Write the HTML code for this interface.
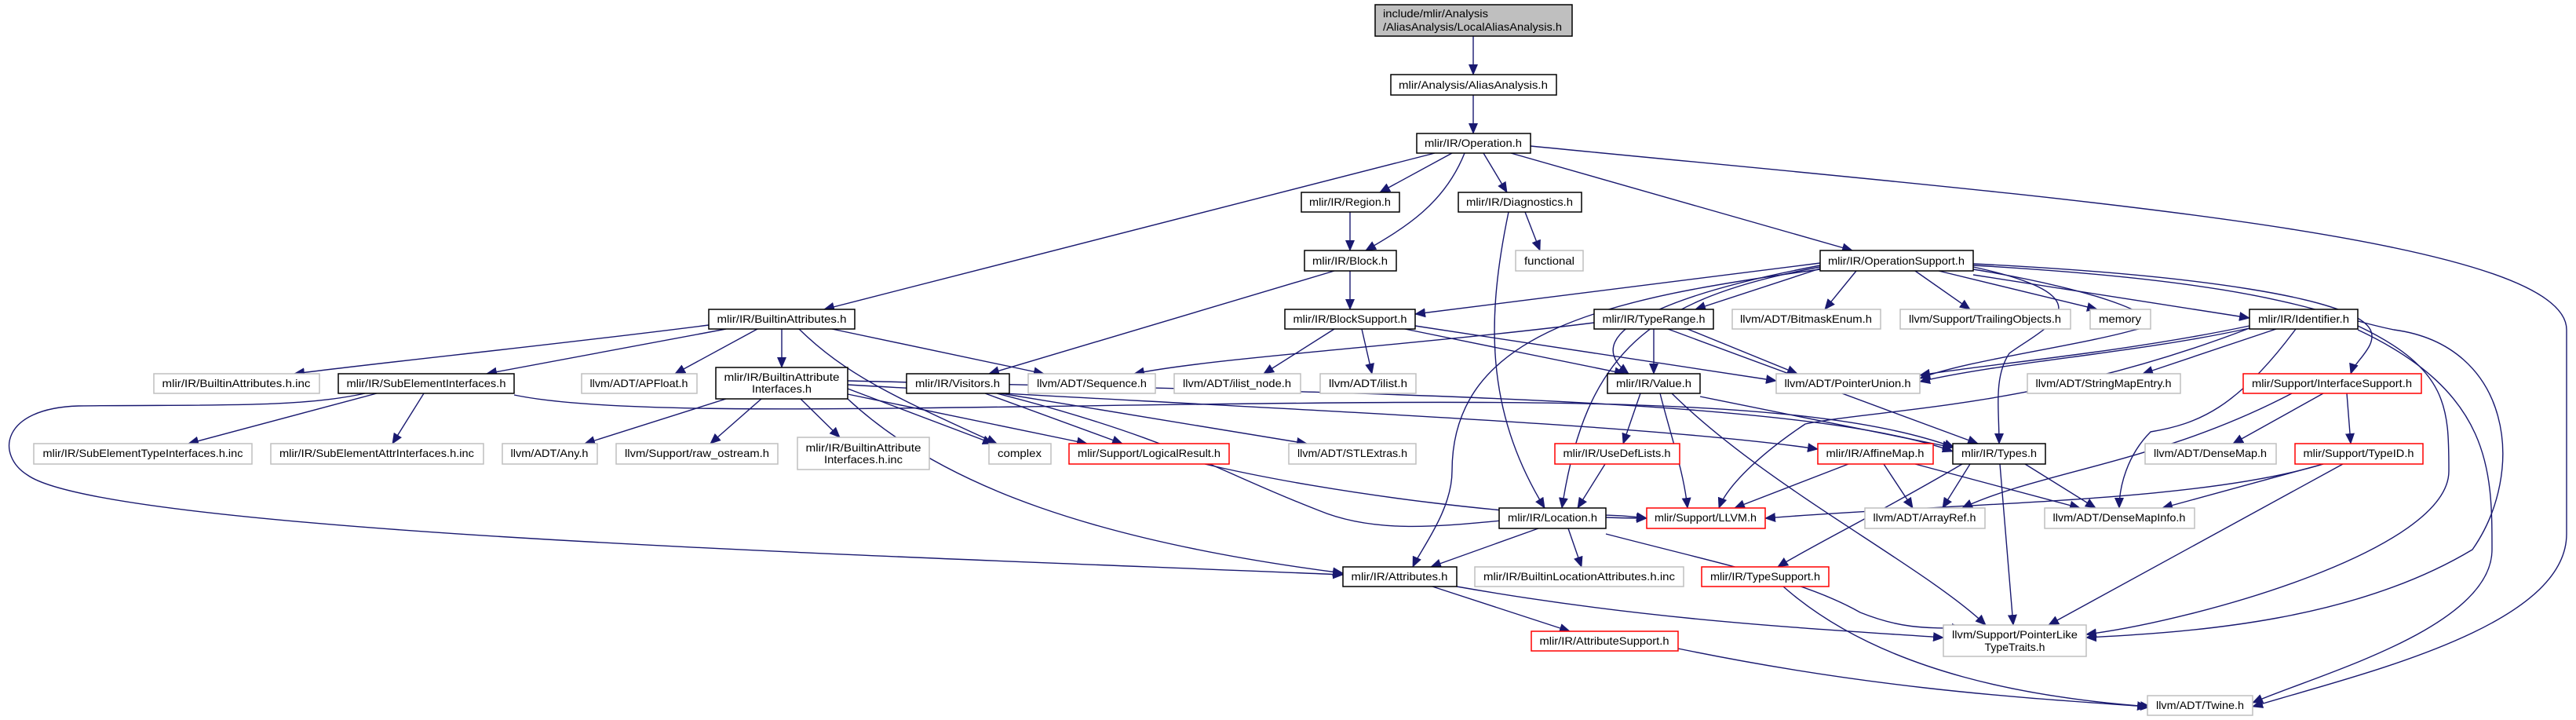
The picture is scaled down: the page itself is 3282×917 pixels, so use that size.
<!DOCTYPE html>
<html><head><meta charset="utf-8"><style>html,body{margin:0;padding:0;background:#fff}svg{display:block}</style></head>
<body>
<svg xmlns="http://www.w3.org/2000/svg" width="3282" height="917" viewBox="0 0 3282 917" font-family="'Liberation Sans', sans-serif" font-size="14">
<defs>
<marker id="a" markerUnits="userSpaceOnUse" markerWidth="14" markerHeight="12" refX="13" refY="6" orient="auto"><path d="M0,0 L14,6 L0,12 z" fill="#191970"/></marker>
</defs>
<g fill="none" stroke="#191970" stroke-width="1.4" marker-end="url(#a)">
<path d="M1877,46 L1877,95"/>
<path d="M1877,121 L1877,170"/>
<path d="M1828,195 L1050,394"/>
<path d="M1850,195 L1758,245"/>
<path d="M1866,195 C1840,260 1790,290 1740,319"/>
<path d="M1890,195 L1920,245"/>
<path d="M1925,195 L2360,319"/>
<path d="M1950,186 C2600,250 3270,300 3270,420 L3270,680 C3270,800 3000,860 2870,900"/>
<path d="M1720,270 L1720,319"/>
<path d="M1943,270 L1962,319"/>
<path d="M1922,270 C1895,400 1890,520 1968,647"/>
<path d="M1700,345 L1260,476"/>
<path d="M1720,345 L1720,394"/>
<path d="M903,414 C700,440 500,460 375,476"/>
<path d="M925,419 L620,476"/>
<path d="M965,419 L860,476"/>
<path d="M996,419 L996,468"/>
<path d="M1018,419 C1080,480 1150,510 1270,565"/>
<path d="M1060,419 L1330,476"/>
<path d="M480,501 L240,565"/>
<path d="M540,501 L500,565"/>
<path d="M465,501 C380,520 260,515 100,517 C0,520 -5,580 35,605 C140,680 1200,710 1711,732"/>
<path d="M655,503 C760,525 1000,522 1300,518 C1900,510 2300,500 2490,570"/>
<path d="M925,508 L745,565"/>
<path d="M970,508 L905,565"/>
<path d="M1020,508 L1070,557"/>
<path d="M1080,495 L1265,565"/>
<path d="M1080,502 L1385,565"/>
<path d="M1080,508 C1200,620 1400,690 1711,730"/>
<path d="M1080,490 C1600,520 2100,540 2316,572"/>
<path d="M1080,485 C1700,500 2300,505 2488,575"/>
<path d="M1270,501 C1500,560 1550,600 1680,650 C1800,700 1950,640 2098,660"/>
<path d="M1255,501 L1430,565"/>
<path d="M1275,501 L1665,565"/>
<path d="M1700,419 L1610,476"/>
<path d="M1735,419 L1748,476"/>
<path d="M1790,419 L2070,476"/>
<path d="M1803,415 L2263,485"/>
<path d="M2031,411 C1800,440 1550,455 1445,476"/>
<path d="M2107,419 L2107,476"/>
<path d="M2125,419 L2520,565"/>
<path d="M2150,419 L2290,476"/>
<path d="M2319,335 L1803,400"/>
<path d="M2319,342 L2160,394"/>
<path d="M2319,338 C2150,370 2000,420 2075,476"/>
<path d="M2319,340 C2100,380 2020,450 1990,647"/>
<path d="M2319,343 C2050,380 1850,420 1850,600 C1850,650 1810,700 1800,722"/>
<path d="M2365,345 L2325,394"/>
<path d="M2440,345 L2510,394"/>
<path d="M2470,345 L2672,394"/>
<path d="M2514,350 L2866,405"/>
<path d="M2514,336 C2800,350 3000,380 3020,420 C3030,440 3000,460 2995,476"/>
<path d="M2514,343 C2680,370 2780,410 2720,420 C2650,440 2500,460 2446,482"/>
<path d="M2514,340 C2700,380 2600,420 2560,450 C2540,480 2547,520 2547,565"/>
<path d="M2514,338 C2900,360 2950,400 3050,420 C3200,440 3220,600 3150,700 C3000,790 2800,805 2658,812"/>
<path d="M2866,415 C2700,450 2520,465 2446,478"/>
<path d="M2866,418 C2720,450 2560,460 2446,486"/>
<path d="M2900,419 L2730,476"/>
<path d="M2925,419 C2850,520 2800,540 2740,550 C2710,580 2700,620 2700,647"/>
<path d="M2866,418 C2600,520 2400,520 2300,540 C2240,580 2200,620 2190,647"/>
<path d="M3004,415 C3120,470 3120,520 3120,600 C3120,700 2800,790 2658,808"/>
<path d="M3004,420 C3175,500 3175,600 3175,700 C3175,800 2950,860 2870,895"/>
<path d="M2090,501 L2068,565"/>
<path d="M2115,501 C2130,560 2145,600 2150,647"/>
<path d="M2130,501 C2250,620 2450,720 2530,796"/>
<path d="M2166,505 L2488,570"/>
<path d="M2045,591 L2010,647"/>
<path d="M1535,591 C1700,630 1950,660 2098,660"/>
<path d="M1960,673 L1823,722"/>
<path d="M1998,673 L2015,722"/>
<path d="M2046,680 C2200,720 2300,740 2370,780 C2420,800 2450,800 2500,800"/>
<path d="M1856,747 C2100,790 2300,800 2476,812"/>
<path d="M1825,747 L2000,804"/>
<path d="M2138,826 C2400,880 2600,890 2736,900"/>
<path d="M2355,591 L2210,647"/>
<path d="M2400,591 L2437,647"/>
<path d="M2440,591 L2650,647"/>
<path d="M2510,591 L2475,647"/>
<path d="M2580,591 L2670,647"/>
<path d="M2500,591 C2400,650 2300,700 2265,722"/>
<path d="M2548,591 L2565,796"/>
<path d="M2272,747 C2400,860 2600,890 2740,900"/>
<path d="M2990,501 L2995,565"/>
<path d="M2960,501 L2845,565"/>
<path d="M2920,501 C2750,590 2600,600 2500,647"/>
<path d="M2960,591 C2800,640 2500,640 2249,660"/>
<path d="M2960,591 L2755,647"/>
<path d="M2985,591 L2610,796"/>
</g>
<g stroke-width="1.5">
<rect x="1752" y="6" width="251" height="40" fill="#bfbfbf" stroke="#000"/>
<rect x="1772" y="95" width="211" height="26" fill="#fff" stroke="#000"/>
<rect x="1805" y="170" width="145" height="25" fill="#fff" stroke="#000"/>
<rect x="1658" y="245" width="125" height="25" fill="#fff" stroke="#000"/>
<rect x="1858" y="245" width="157" height="25" fill="#fff" stroke="#000"/>
<rect x="1662" y="319" width="117" height="26" fill="#fff" stroke="#000"/>
<rect x="1931" y="319" width="86" height="26" fill="#fff" stroke="#bfbfbf"/>
<rect x="1637" y="394" width="166" height="25" fill="#fff" stroke="#000"/>
<rect x="2031" y="394" width="152" height="25" fill="#fff" stroke="#000"/>
<rect x="903" y="394" width="186" height="25" fill="#fff" stroke="#000"/>
<rect x="2319" y="319" width="195" height="26" fill="#fff" stroke="#000"/>
<rect x="2207" y="394" width="189" height="25" fill="#fff" stroke="#bfbfbf"/>
<rect x="2421" y="394" width="217" height="25" fill="#fff" stroke="#bfbfbf"/>
<rect x="2663" y="394" width="77" height="25" fill="#fff" stroke="#bfbfbf"/>
<rect x="2866" y="394" width="138" height="25" fill="#fff" stroke="#000"/>
<rect x="196" y="476" width="211" height="25" fill="#fff" stroke="#bfbfbf"/>
<rect x="431" y="476" width="224" height="25" fill="#fff" stroke="#000"/>
<rect x="741" y="476" width="147" height="25" fill="#fff" stroke="#bfbfbf"/>
<rect x="912" y="468" width="168" height="40" fill="#fff" stroke="#000"/>
<rect x="1155" y="476" width="131" height="25" fill="#fff" stroke="#000"/>
<rect x="1310" y="476" width="162" height="25" fill="#fff" stroke="#bfbfbf"/>
<rect x="1496" y="476" width="161" height="25" fill="#fff" stroke="#bfbfbf"/>
<rect x="1682" y="476" width="122" height="25" fill="#fff" stroke="#bfbfbf"/>
<rect x="2048" y="476" width="118" height="25" fill="#fff" stroke="#000"/>
<rect x="2263" y="476" width="183" height="25" fill="#fff" stroke="#bfbfbf"/>
<rect x="2583" y="476" width="195" height="25" fill="#fff" stroke="#bfbfbf"/>
<rect x="2858" y="476" width="227" height="25" fill="#fff" stroke="#ff0000"/>
<rect x="43" y="565" width="278" height="26" fill="#fff" stroke="#bfbfbf"/>
<rect x="345" y="565" width="271" height="26" fill="#fff" stroke="#bfbfbf"/>
<rect x="640" y="565" width="121" height="26" fill="#fff" stroke="#bfbfbf"/>
<rect x="785" y="565" width="206" height="26" fill="#fff" stroke="#bfbfbf"/>
<rect x="1016" y="557" width="168" height="41" fill="#fff" stroke="#bfbfbf"/>
<rect x="1260" y="565" width="79" height="26" fill="#fff" stroke="#bfbfbf"/>
<rect x="1362" y="565" width="204" height="26" fill="#fff" stroke="#ff0000"/>
<rect x="1642" y="565" width="162" height="26" fill="#fff" stroke="#bfbfbf"/>
<rect x="1981" y="565" width="159" height="26" fill="#fff" stroke="#ff0000"/>
<rect x="2316" y="565" width="147" height="26" fill="#fff" stroke="#ff0000"/>
<rect x="2488" y="565" width="118" height="26" fill="#fff" stroke="#000"/>
<rect x="2733" y="565" width="167" height="26" fill="#fff" stroke="#bfbfbf"/>
<rect x="2924" y="565" width="163" height="26" fill="#fff" stroke="#ff0000"/>
<rect x="1910" y="647" width="136" height="26" fill="#fff" stroke="#000"/>
<rect x="2098" y="647" width="151" height="26" fill="#fff" stroke="#ff0000"/>
<rect x="2376" y="647" width="153" height="26" fill="#fff" stroke="#bfbfbf"/>
<rect x="2605" y="647" width="191" height="26" fill="#fff" stroke="#bfbfbf"/>
<rect x="1711" y="722" width="145" height="25" fill="#fff" stroke="#000"/>
<rect x="1879" y="722" width="266" height="25" fill="#fff" stroke="#bfbfbf"/>
<rect x="2168" y="722" width="162" height="25" fill="#fff" stroke="#ff0000"/>
<rect x="2476" y="796" width="182" height="40" fill="#fff" stroke="#bfbfbf"/>
<rect x="1951" y="804" width="187" height="25" fill="#fff" stroke="#ff0000"/>
<rect x="2736" y="886" width="134" height="25" fill="#fff" stroke="#bfbfbf"/>
</g>
<g fill="#000" lengthAdjust="spacingAndGlyphs">
<text x="1762" y="22" textLength="134" lengthAdjust="spacingAndGlyphs">include/mlir/Analysis</text>
<text x="1762" y="39" textLength="228" lengthAdjust="spacingAndGlyphs">/AliasAnalysis/LocalAliasAnalysis.h</text>
<text x="1877" y="113" text-anchor="middle" textLength="190" lengthAdjust="spacingAndGlyphs">mlir/Analysis/AliasAnalysis.h</text>
<text x="1877" y="187" text-anchor="middle" textLength="124" lengthAdjust="spacingAndGlyphs">mlir/IR/Operation.h</text>
<text x="1720" y="262" text-anchor="middle" textLength="104" lengthAdjust="spacingAndGlyphs">mlir/IR/Region.h</text>
<text x="1936" y="262" text-anchor="middle" textLength="136" lengthAdjust="spacingAndGlyphs">mlir/IR/Diagnostics.h</text>
<text x="1720" y="337" text-anchor="middle" textLength="96" lengthAdjust="spacingAndGlyphs">mlir/IR/Block.h</text>
<text x="1974" y="337" text-anchor="middle" textLength="64" lengthAdjust="spacingAndGlyphs">functional</text>
<text x="1720" y="411" text-anchor="middle" textLength="145" lengthAdjust="spacingAndGlyphs">mlir/IR/BlockSupport.h</text>
<text x="2107" y="411" text-anchor="middle" textLength="131" lengthAdjust="spacingAndGlyphs">mlir/IR/TypeRange.h</text>
<text x="996" y="411" text-anchor="middle" textLength="165" lengthAdjust="spacingAndGlyphs">mlir/IR/BuiltinAttributes.h</text>
<text x="2416" y="337" text-anchor="middle" textLength="174" lengthAdjust="spacingAndGlyphs">mlir/IR/OperationSupport.h</text>
<text x="2301" y="411" text-anchor="middle" textLength="168" lengthAdjust="spacingAndGlyphs">llvm/ADT/BitmaskEnum.h</text>
<text x="2529" y="411" text-anchor="middle" textLength="194" lengthAdjust="spacingAndGlyphs">llvm/Support/TrailingObjects.h</text>
<text x="2701" y="411" text-anchor="middle" textLength="54" lengthAdjust="spacingAndGlyphs">memory</text>
<text x="2935" y="411" text-anchor="middle" textLength="116" lengthAdjust="spacingAndGlyphs">mlir/IR/Identifier.h</text>
<text x="301" y="493" text-anchor="middle" textLength="189" lengthAdjust="spacingAndGlyphs">mlir/IR/BuiltinAttributes.h.inc</text>
<text x="543" y="493" text-anchor="middle" textLength="203" lengthAdjust="spacingAndGlyphs">mlir/IR/SubElementInterfaces.h</text>
<text x="814" y="493" text-anchor="middle" textLength="125" lengthAdjust="spacingAndGlyphs">llvm/ADT/APFloat.h</text>
<text x="996" y="485" text-anchor="middle" textLength="147" lengthAdjust="spacingAndGlyphs">mlir/IR/BuiltinAttribute</text>
<text x="996" y="500" text-anchor="middle" textLength="76" lengthAdjust="spacingAndGlyphs">Interfaces.h</text>
<text x="1220" y="493" text-anchor="middle" textLength="108" lengthAdjust="spacingAndGlyphs">mlir/IR/Visitors.h</text>
<text x="1391" y="493" text-anchor="middle" textLength="140" lengthAdjust="spacingAndGlyphs">llvm/ADT/Sequence.h</text>
<text x="1576" y="493" text-anchor="middle" textLength="138" lengthAdjust="spacingAndGlyphs">llvm/ADT/ilist_node.h</text>
<text x="1743" y="493" text-anchor="middle" textLength="100" lengthAdjust="spacingAndGlyphs">llvm/ADT/ilist.h</text>
<text x="2107" y="493" text-anchor="middle" textLength="96" lengthAdjust="spacingAndGlyphs">mlir/IR/Value.h</text>
<text x="2354" y="493" text-anchor="middle" textLength="161" lengthAdjust="spacingAndGlyphs">llvm/ADT/PointerUnion.h</text>
<text x="2680" y="493" text-anchor="middle" textLength="173" lengthAdjust="spacingAndGlyphs">llvm/ADT/StringMapEntry.h</text>
<text x="2971" y="493" text-anchor="middle" textLength="204" lengthAdjust="spacingAndGlyphs">mlir/Support/InterfaceSupport.h</text>
<text x="182" y="582" text-anchor="middle" textLength="255" lengthAdjust="spacingAndGlyphs">mlir/IR/SubElementTypeInterfaces.h.inc</text>
<text x="480" y="582" text-anchor="middle" textLength="248" lengthAdjust="spacingAndGlyphs">mlir/IR/SubElementAttrInterfaces.h.inc</text>
<text x="700" y="582" text-anchor="middle" textLength="99" lengthAdjust="spacingAndGlyphs">llvm/ADT/Any.h</text>
<text x="888" y="582" text-anchor="middle" textLength="184" lengthAdjust="spacingAndGlyphs">llvm/Support/raw_ostream.h</text>
<text x="1100" y="575" text-anchor="middle" textLength="147" lengthAdjust="spacingAndGlyphs">mlir/IR/BuiltinAttribute</text>
<text x="1100" y="590" text-anchor="middle" textLength="100" lengthAdjust="spacingAndGlyphs">Interfaces.h.inc</text>
<text x="1299" y="582" text-anchor="middle" textLength="56" lengthAdjust="spacingAndGlyphs">complex</text>
<text x="1464" y="582" text-anchor="middle" textLength="182" lengthAdjust="spacingAndGlyphs">mlir/Support/LogicalResult.h</text>
<text x="1723" y="582" text-anchor="middle" textLength="140" lengthAdjust="spacingAndGlyphs">llvm/ADT/STLExtras.h</text>
<text x="2060" y="582" text-anchor="middle" textLength="137" lengthAdjust="spacingAndGlyphs">mlir/IR/UseDefLists.h</text>
<text x="2389" y="582" text-anchor="middle" textLength="125" lengthAdjust="spacingAndGlyphs">mlir/IR/AffineMap.h</text>
<text x="2547" y="582" text-anchor="middle" textLength="96" lengthAdjust="spacingAndGlyphs">mlir/IR/Types.h</text>
<text x="2816" y="582" text-anchor="middle" textLength="144" lengthAdjust="spacingAndGlyphs">llvm/ADT/DenseMap.h</text>
<text x="3005" y="582" text-anchor="middle" textLength="141" lengthAdjust="spacingAndGlyphs">mlir/Support/TypeID.h</text>
<text x="1978" y="664" text-anchor="middle" textLength="114" lengthAdjust="spacingAndGlyphs">mlir/IR/Location.h</text>
<text x="2173" y="664" text-anchor="middle" textLength="130" lengthAdjust="spacingAndGlyphs">mlir/Support/LLVM.h</text>
<text x="2452" y="664" text-anchor="middle" textLength="131" lengthAdjust="spacingAndGlyphs">llvm/ADT/ArrayRef.h</text>
<text x="2700" y="664" text-anchor="middle" textLength="169" lengthAdjust="spacingAndGlyphs">llvm/ADT/DenseMapInfo.h</text>
<text x="1783" y="739" text-anchor="middle" textLength="123" lengthAdjust="spacingAndGlyphs">mlir/IR/Attributes.h</text>
<text x="2012" y="739" text-anchor="middle" textLength="244" lengthAdjust="spacingAndGlyphs">mlir/IR/BuiltinLocationAttributes.h.inc</text>
<text x="2249" y="739" text-anchor="middle" textLength="140" lengthAdjust="spacingAndGlyphs">mlir/IR/TypeSupport.h</text>
<text x="2567" y="813" text-anchor="middle" textLength="160" lengthAdjust="spacingAndGlyphs">llvm/Support/PointerLike</text>
<text x="2567" y="829" text-anchor="middle" textLength="77" lengthAdjust="spacingAndGlyphs">TypeTraits.h</text>
<text x="2044" y="821" text-anchor="middle" textLength="165" lengthAdjust="spacingAndGlyphs">mlir/IR/AttributeSupport.h</text>
<text x="2803" y="903" text-anchor="middle" textLength="112" lengthAdjust="spacingAndGlyphs">llvm/ADT/Twine.h</text>
</g>
</svg>
</body></html>
